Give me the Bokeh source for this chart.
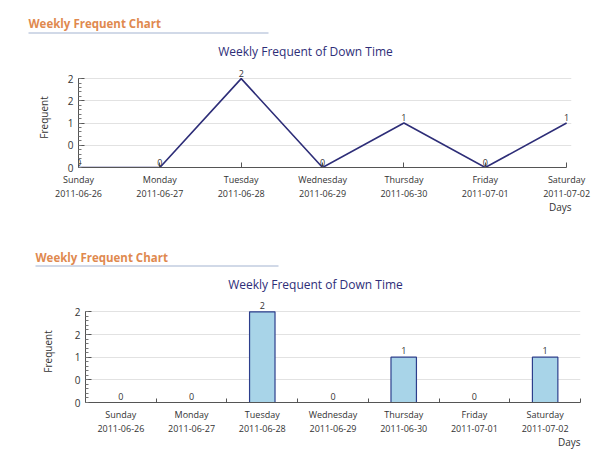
from bokeh.plotting import figure
from bokeh.models import ColumnDataSource, Range1d, FixedTicker, LabelSet, Title
from bokeh.core.properties import value
from bokeh.layouts import column
from bokeh.embed import file_html
from bokeh.resources import INLINE

# ---- data ----
days = ["Sunday", "Monday", "Tuesday", "Wednesday", "Thursday", "Friday", "Saturday"]
dates = ["2011-06-26", "2011-06-27", "2011-06-28", "2011-06-29", "2011-06-30", "2011-07-01", "2011-07-02"]
frequent = [0, 0, 2, 0, 1, 0, 1]
y_tick_values = [0, 0.5, 1, 1.5, 2]
y_tick_labels = ["0", "0", "1", "2", "2"]
header_text = "Weekly Frequent Chart"
chart_title = "Weekly Frequent of Down Time"
x_label = "Days"
y_label = "Frequent"

FONT = "Open Sans"
NAVY = "#2e2e78"
ORANGE = "#e0894f"
TXT = "#333333"
W = 594

x_idx = list(range(len(days)))
day_labels = [f"{d}\n{t}" for d, t in zip(days, dates)]
point_labels = [str(v) for v in frequent]
y_minor = [k / 10 for k in range(0, 21)]


def header_fig(h, hx, hy, ux0, ux1, uy, tx, ty):
    f = figure(width=W, height=h, output_backend="svg", toolbar_location=None,
               x_range=Range1d(0, W), y_range=Range1d(h, 0),
               x_axis_location=None, y_axis_location=None, min_border=0,
               frame_align=False)
    f.outline_line_color = None
    f.background_fill_color = "white"
    f.border_fill_color = "white"
    f.grid.visible = False
    f.text(x=[hx], y=[hy], text=[header_text], text_font=value(FONT), text_font_size="11.5px",
           text_font_style="bold", text_color=ORANGE, text_baseline="middle", text_align="left")
    f.segment(x0=[ux0], y0=[uy], x1=[ux1], y1=[uy], line_color="#a3b3d0", line_width=1)
    f.text(x=[tx], y=[ty], text=[chart_title], text_font=value(FONT), text_font_size="12px",
           text_color=NAVY, text_baseline="middle", text_align="center")
    return f


def style_axes(p, y_label_standoff):
    p.outline_line_color = None
    p.background_fill_color = "white"
    p.border_fill_color = "white"
    p.xgrid.grid_line_color = None
    p.ygrid.grid_line_color = "#e2e2e2"
    p.ygrid.ticker = FixedTicker(ticks=y_tick_values)
    ya = p.yaxis[0]
    ya.bounds = (y_tick_values[0], y_tick_values[-1])
    ya.ticker = FixedTicker(ticks=y_tick_values, minor_ticks=y_minor)
    ya.major_label_overrides = {v: l for v, l in zip(y_tick_values, y_tick_labels)}
    ya.major_tick_in = 6
    ya.major_tick_out = 0
    ya.minor_tick_in = 3
    ya.minor_tick_out = 0
    ya.axis_line_color = "#555555"
    ya.major_tick_line_color = "#555555"
    ya.minor_tick_line_color = "#777777"
    ya.major_label_text_font = FONT
    ya.major_label_text_font_size = "10px"
    ya.major_label_text_color = TXT
    ya.axis_label = y_label
    ya.axis_label_text_font = FONT
    ya.axis_label_text_font_size = "10px"
    ya.axis_label_text_font_style = "normal"
    ya.axis_label_text_color = TXT
    ya.axis_label_standoff = y_label_standoff
    xa = p.xaxis[0]
    xa.axis_line_color = "#555555"
    xa.major_tick_line_color = "#555555"
    xa.minor_tick_line_color = "#555555"
    xa.major_label_text_font = FONT
    xa.major_label_text_font_size = "9px"
    xa.major_label_text_color = TXT
    xa.major_label_text_line_height = 1.1
    xa.major_label_standoff = 5
    p.add_layout(Title(text=x_label, align="right", text_font=FONT, text_font_size="10px",
                       text_font_style="normal", text_color=TXT, standoff=-10), "below")


# ---- top: line chart ----
h1 = header_fig(60, 28, 23, 28, 268, 32.5, 305, 51)

src1 = ColumnDataSource(dict(x=x_idx, y=frequent, lbl=point_labels))
p1 = figure(width=W, height=167, output_backend="svg", toolbar_location=None,
            x_range=Range1d(0, len(days) - 1 + 0.06), y_range=Range1d(0, 2.25),
            min_border_left=78, min_border_right=23, min_border_top=7, min_border_bottom=60,
            frame_align=False)
p1.line(x="x", y="y", source=src1, line_color=NAVY, line_width=1.6)
p1.add_layout(LabelSet(x="x", y="y", text="lbl", source=src1, y_offset=2,
                       text_align="center", text_baseline="bottom",
                       text_font=value(FONT), text_font_size="9px", text_color=TXT))
style_axes(p1, 14)
p1.xaxis[0].bounds = (0, len(days) - 1)
p1.xaxis[0].ticker = FixedTicker(ticks=x_idx)
p1.xaxis[0].major_label_overrides = {i: l for i, l in zip(x_idx, day_labels)}
p1.xaxis[0].major_tick_in = 5
p1.xaxis[0].major_tick_out = 0
p1.xaxis[0].minor_tick_in = 0
p1.xaxis[0].minor_tick_out = 0

# ---- bottom: bar chart ----
h2 = header_fig(66, 35, 30, 35, 278, 38.5, 315, 57)

bar_x = [i + 0.5 for i in x_idx]
src2 = ColumnDataSource(dict(x=bar_x, y=frequent, lbl=point_labels))
p2 = figure(width=W, height=161, output_backend="svg", toolbar_location=None,
            x_range=Range1d(0, len(days)), y_range=Range1d(0, 2.25),
            min_border_left=85, min_border_right=14, min_border_top=7, min_border_bottom=52,
            frame_align=False)
p2.vbar(x="x", top="y", width=0.36, source=src2, fill_color="#a8d4e8",
        line_color="#2c3e8c", line_width=1.2)
p2.add_layout(LabelSet(x="x", y="y", text="lbl", source=src2, y_offset=3,
                       text_align="center", text_baseline="bottom",
                       text_font=value(FONT), text_font_size="9px", text_color=TXT))
style_axes(p2, 17)
p2.xaxis[0].ticker = FixedTicker(ticks=bar_x, minor_ticks=[i + 1 for i in x_idx])
p2.xaxis[0].major_label_overrides = {x: l for x, l in zip(bar_x, day_labels)}
p2.xaxis[0].major_tick_in = 0
p2.xaxis[0].major_tick_out = 0
p2.xaxis[0].minor_tick_in = 4
p2.xaxis[0].minor_tick_out = 0

layout = column(h1, p1, h2, p2, spacing=0)
open("out.html", "w").write(file_html(layout, INLINE))
